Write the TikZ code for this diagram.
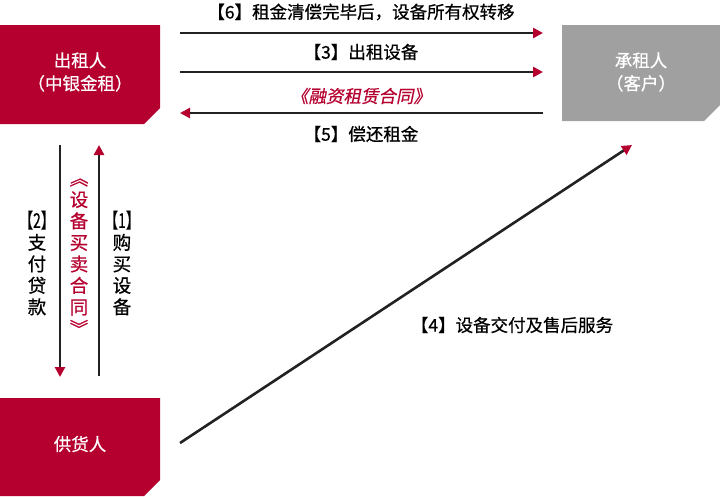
\documentclass[tikz,border=0pt]{standalone}
\usepackage{fontspec}
\setmainfont{Noto Sans CJK SC}[FakeBold=0.6]
\usetikzlibrary{arrows.meta}
\definecolor{cred}{HTML}{B5002F}
\definecolor{cgrey}{HTML}{A0A0A0}
\definecolor{cline}{HTML}{222222}
\tikzset{
 boxtxt/.style={text=white,font=\fontsize{17.5}{23}\selectfont,align=center},
 lbl/.style={font=\fontsize{17.5}{20}\selectfont,text=black},
 rlbl/.style={font=\fontsize{17.5}{20}\selectfont,text=cred},
 conn/.style={draw=cline,line width=2.6pt,-{Triangle[length=10pt,width=10pt,color=cred]}},
 vlbl/.style={font=\fontsize{18.5}{21.5}\selectfont,align=center,inner sep=0pt}
}
\begin{document}
\begin{tikzpicture}[x=1pt,y=-1pt]
\useasboundingbox (0,0) rectangle (720,496);
\fill[cred] (0,25) -- (160,25) -- (160,108) -- (144,124) -- (0,124) -- cycle;
\fill[cgrey] (562,25) -- (720,25) -- (720,105) -- (704,121) -- (562,121) -- cycle;
\fill[cred] (0,398) -- (160,398) -- (160,480) -- (144,496) -- (0,496) -- cycle;
\node[boxtxt] (lessor) at (80,72) {出租人\\（中银金租）};
\node[boxtxt] (lessee) at (641,72) {承租人\\（客户）};
\node[boxtxt] (supp) at (80,444) {供货人};
\coordinate (a1s) at (180,33); \coordinate (a1e) at (543,33);
\coordinate (a2s) at (180,72); \coordinate (a2e) at (543,72);
\coordinate (a3s) at (543,113); \coordinate (a3e) at (180,113);
\draw[conn] (a1s) -- (a1e);
\draw[conn] (a2s) -- (a2e);
\draw[conn] (a3s) -- (a3e);
\node[lbl] (l6) at (361,12) {【6】租金清偿完毕后，设备所有权转移};
\node[lbl] (l3) at (361,52) {【3】出租设备};
\node[rlbl] (lc) at (361,96) {\addfontfeature{FakeSlant=0.2}《融资租赁合同》};
\node[lbl] (l5) at (361,134) {【5】偿还租金};
\coordinate (v1s) at (60,145); \coordinate (v1e) at (60,377);
\coordinate (v2s) at (99,376); \coordinate (v2e) at (99,145);
\draw[conn] (v1s) -- (v1e);
\draw[conn] (v2s) -- (v2e);
\node[vlbl] (t2) at (37,263) {\scalebox{0.75}[1.1]{【2】}\\支\\付\\贷\\款};
\node[vlbl,text=cred] (tc) at (79,257) {\addfontfeature{FakeSlant=0.2}︽\\设\\备\\买\\卖\\合\\同\\︾};
\node[vlbl] (t1) at (122,263) {\scalebox{0.75}[1.1]{【1】}\\购\\买\\设\\备};
\coordinate (d1) at (180,443); \coordinate (d2) at (632,145);
\draw[conn] (d1) -- (d2);
\node[lbl] (l4) at (512,325) {【4】设备交付及售后服务};
\end{tikzpicture}
\end{document}
